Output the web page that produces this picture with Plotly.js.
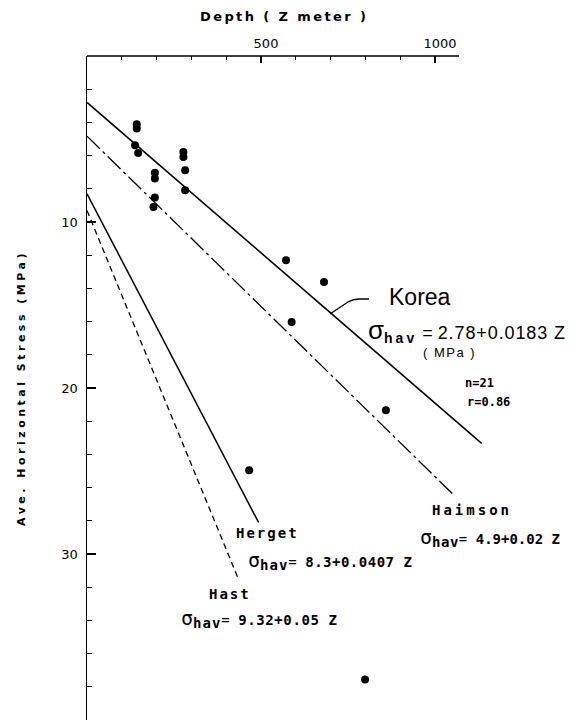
<!DOCTYPE html>
<html><head><meta charset="utf-8">
<script src="https://cdn.plot.ly/plotly-3.0.1.min.js"></script>
<style>html,body{margin:0;padding:0;background:#fff;}</style>
</head><body><div id="chart" style="width:581px;height:720px;"></div>
<script>
// ---- data ----
const pointDepth  = [143, 143, 138, 147, 277, 277, 282, 282, 195, 195, 195, 191, 572, 681, 588, 859, 466, 799];
const pointStress = [4.11, 4.36, 5.37, 5.84, 5.78, 6.08, 6.88, 8.08, 7.04, 7.38, 8.52, 9.09, 12.30, 13.61, 16.02, 21.34, 24.95, 37.56];

const koreaDepth   = [0, 1134];  const koreaStress   = [2.8, 23.34];
const haimsonDepth = [0, 1054];  const haimsonStress = [4.83, 26.45];
const hergetDepth  = [0, 493];   const hergetStress  = [8.3, 28.1];
const hastDepth    = [0, 435];   const hastStress    = [9.3, 31.5];

const xTickVals  = [500, 1000];
const xTickText  = ['500', '1000'];
const xMinorVals = [100, 200, 300, 400, 600, 700, 800, 900];
const yTickVals  = [10, 20, 30];
const yTickText  = ['10', '20', '30'];
const yMinorVals = [2, 4, 6, 8, 12, 14, 16, 18, 22, 24, 26, 28, 32, 34, 36, 38, 40];

// ---- pixel helpers for text placement ----
const L = 87, T = 56, SX = 0.348, SY = 16.6, W = 581, H = 720;
const dx = p => (p - L) / SX;
const dy = p => (p - T) / SY;

const blk = '#000';
const traces = [
  {x: koreaDepth, y: koreaStress, mode: 'lines', line: {color: blk, width: 1.6}, name: 'Korea'},
  {x: haimsonDepth, y: haimsonStress, mode: 'lines', line: {color: blk, width: 1.3, dash: '18px,4px,3px,4px'}, name: 'Haimson'},
  {x: hergetDepth, y: hergetStress, mode: 'lines', line: {color: blk, width: 1.5}, name: 'Herget'},
  {x: hastDepth, y: hastStress, mode: 'lines', line: {color: blk, width: 1.3, dash: '6px,4px'}, name: 'Hast'},
  {x: pointDepth, y: pointStress, mode: 'markers', marker: {color: blk, size: 8}, name: 'Korea data'}
];

const mono = 'DejaVu Sans Mono';
const ls = (t, px) => '<span style="letter-spacing:' + px + 'px">' + t + '</span>';
const ann = (px, py, text, font, xanchor) => ({
  x: dx(px), y: dy(py), xref: 'x', yref: 'y', text: text, showarrow: false,
  xanchor: xanchor || 'center', yanchor: 'middle', font: Object.assign({color: blk}, font)
});
const sig = (size) => '<span style="font-size:' + size + 'px">σ</span>';
const hav = (size, sp) => '<sub><b><span style="font-size:' + size + 'px;letter-spacing:' + sp + 'px">hav</span></b></sub>';

const annotations = [
  {x: (284 - L) / (W - L), y: 1 + (T - 17) / (H - T), xref: 'paper', yref: 'paper', showarrow: false,
   xanchor: 'center', yanchor: 'middle', text: '<b>' + ls('Depth ( Z meter )', 2.4) + '</b>',
   font: {family: 'DejaVu Sans', size: 13, color: blk}},
  ann(420, 297, 'Korea', {family: 'Liberation Sans', size: 23}),
  ann(366, 330, sig(26) + hav(14, 3) + ' = ' + ls('2.78+0.0183 Z', 0.9), {family: 'Liberation Sans', size: 18}, 'left'),
  ann(449, 352, ls('( MPa )', 1.5), {family: 'Liberation Sans', size: 13}),
  ann(463, 383, '<b>n=21</b>', {family: mono, size: 12}, 'left'),
  ann(465, 402, '<b>r=0.86</b>', {family: mono, size: 12}, 'left'),
  ann(472, 510, '<b>' + ls('Haimson', 3) + '</b>', {family: mono, size: 14}),
  ann(418, 537, sig(20) + hav(14, 0.5) + '= <b>' + ls('4.9+0.02 Z', 0) + '</b>', {family: mono, size: 14}, 'left'),
  ann(267, 533, '<b>' + ls('Herget', 2) + '</b>', {family: mono, size: 14}),
  ann(246, 560, sig(20) + hav(14, 1) + '= <b>' + ls('8.3+0.0407 Z', 0.5) + '</b>', {family: mono, size: 14}, 'left'),
  ann(230, 594, '<b>' + ls('Hast', 2) + '</b>', {family: mono, size: 14}),
  ann(179, 618, sig(20) + hav(14, 1) + '= <b>' + ls('9.32+0.05 Z', 0.6) + '</b>', {family: mono, size: 14}, 'left')
];

const shapes = [
  // top axis line (ends at ~1070 m)
  {type: 'line', xref: 'paper', yref: 'paper', x0: 0, x1: (459 - L) / (W - L), y0: 1, y1: 1, line: {color: blk, width: 1.5}},
  // leader from "Korea" label to the Korea line
  {type: 'path', xref: 'x', yref: 'y',
   path: 'M ' + dx(330) + ',' + dy(314) + ' L ' + dx(348) + ',' + dy(302) + ' Q ' + dx(353) + ',' + dy(299) + ' ' + dx(359) + ',' + dy(299) + ' L ' + dx(369) + ',' + dy(299),
   line: {color: blk, width: 1.3}}
];

const layout = {
  width: W, height: H,
  margin: {l: L, r: 0, t: T, b: 0, pad: 0},
  paper_bgcolor: '#fff', plot_bgcolor: '#fff',
  showlegend: false,
  xaxis: {
    side: 'top', range: [0, (W - L) / SX], showline: false, showgrid: false, zeroline: false,
    tickmode: 'array', tickvals: xTickVals, ticktext: xTickText,
    ticks: 'inside', ticklen: 7, tickwidth: 1.3, tickcolor: blk,
    ticklabelshift: 5, ticklabelstandoff: 4,
    tickfont: {family: 'DejaVu Sans', size: 13, color: blk},
    minor: {tickmode: 'array', tickvals: xMinorVals, ticks: 'inside', ticklen: 4, tickwidth: 1.2, tickcolor: blk, showgrid: false}
  },
  yaxis: {
    range: [40, 0], showline: true, linewidth: 1.5, linecolor: blk, showgrid: false, zeroline: false,
    tickmode: 'array', tickvals: yTickVals, ticktext: yTickText,
    ticks: 'inside', ticklen: 9, tickwidth: 1.3, tickcolor: blk,
    ticklabelstandoff: 5,
    tickfont: {family: 'DejaVu Sans', size: 13, color: blk},
    minor: {tickmode: 'array', tickvals: yMinorVals, ticks: 'inside', ticklen: 5, tickwidth: 1.2, tickcolor: blk, showgrid: false},
    title: {text: '<b>' + ls('Ave. Horizontal Stress (MPa)', 3.5) + '</b>', font: {family: 'DejaVu Sans', size: 11, color: blk}, standoff: 33}
  },
  annotations: annotations,
  shapes: shapes
};

Plotly.newPlot('chart', traces, layout, {staticPlot: true, displayModeBar: false});
</script>
</body></html>
